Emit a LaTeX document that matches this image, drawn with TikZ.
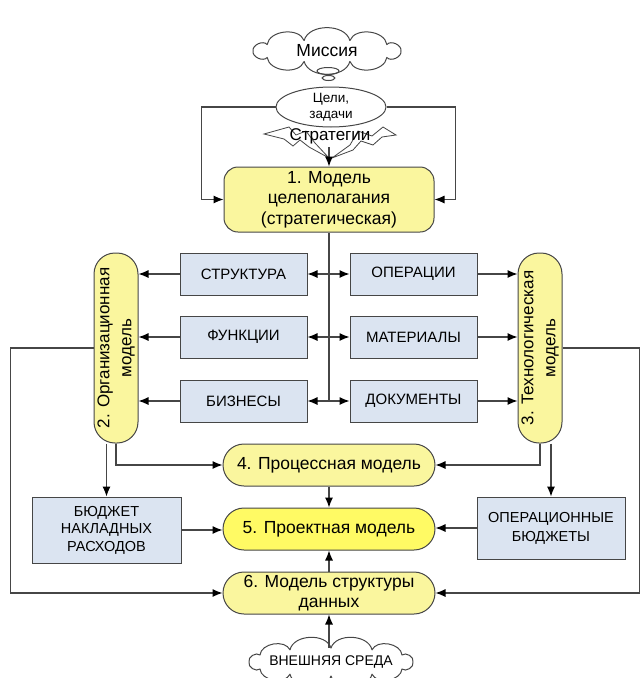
\documentclass[tikz,border=0pt]{standalone}
\usepackage{fontspec}
\setmainfont{Liberation Sans}
\usepackage{graphicx}
\usetikzlibrary{shapes.geometric,arrows.meta}
\definecolor{modelfill}{RGB}{250,246,158}
\definecolor{projfill}{RGB}{255,250,100}
\definecolor{boxfill}{RGB}{219,228,241}
\definecolor{linegray}{RGB}{70,70,70}
\begin{document}
\begin{tikzpicture}[x=1pt,y=-1pt,>={Latex[length=10pt,width=8pt,color=black]},
	model/.style={rounded corners=21pt,draw=linegray,line width=1pt,fill=modelfill,minimum width=212pt,minimum height=42pt,inner sep=1pt,align=center,font=\fontsize{17.5}{20.5}\selectfont},
	vmodel/.style={model,minimum width=42pt,minimum height=190pt,inner sep=0pt,font=\fontsize{17}{22}\selectfont},
	bx/.style={draw=linegray,line width=1pt,fill=boxfill,minimum width=127pt,minimum height=42pt,inner sep=2pt,align=center,font=\fontsize{15}{17.5}\selectfont},
	line/.style={draw=linegray,line width=1.1pt},
	bolt/.style={draw=linegray,line width=0.8pt,fill=white},
	puffs/.style={draw=linegray,line width=1pt,line join=round}]

	\useasboundingbox (0,0) rectangle (641,678);
	\clip (0,0) rectangle (641,678);

	\node[ellipse, minimum width=150pt, minimum height=22pt, inner sep=0pt, font=\fontsize{17.5}{20}\selectfont] (mission) at (327,51) {Миссия};
	\draw[puffs, shift={(mission.center)}] (0:74 and 11) \foreach \a in {36,72,...,360} {to[bend left=75] (\a:74 and 11)};
	\node[ellipse, draw=linegray, line width=1pt, minimum width=22pt, minimum height=7pt, inner sep=0pt] (bubbleA) at (328,71) {};
	\node[ellipse, draw=linegray, line width=1pt, minimum width=13pt, minimum height=5pt, inner sep=0pt] (bubbleB) at (328.5,78) {};
	\node[ellipse, draw=linegray, line width=1pt, minimum width=110pt, minimum height=40pt, inner sep=0pt, align=center, font=\fontsize{13.5}{16}\selectfont] (goals) at (331,107) {Цели,\\задачи};

	\draw[bolt] (264,134) -- (289,127) -- (296,135) -- (306,131) -- (315,143) -- (329,158) -- (309,147) -- (300,140) -- (293,146) -- (284,139) -- cycle;
	\draw[bolt] (396,135) -- (383,127) -- (372,136) -- (358,131) -- (350,145) -- (332,158) -- (353,150) -- (361,141) -- (373,145) -- (382,137) -- cycle;
	\node[font=\fontsize{17}{20}\selectfont, inner sep=0pt] (strat) at (330,136) {Стратегии};
	\coordinate (boltTip) at (329,147);

	\node[model, rounded corners=14pt, minimum width=210pt, minimum height=65pt] (m1) at (329,199.5) {1. Модель\\целеполагания\\(стратегическая)};

	\node[bx] (bxStruct) at (243.5,274) {СТРУКТУРА};
	\node[bx] (bxFunc) at (243.5,337) {ФУНКЦИИ};
	\node[bx] (bxBiz) at (243.5,401) {БИЗНЕСЫ};
	\node[bx] (bxOper) at (413.5,274) {ОПЕРАЦИИ};
	\node[bx] (bxMat) at (413.5,337) {МАТЕРИАЛЫ};
	\node[bx] (bxDoc) at (413.5,401) {ДОКУМЕНТЫ};

	\node[vmodel] (m2) at (116,348) {\rotatebox{90}{\begin{tabular}{@{}c@{}}2. Организационная\\модель\end{tabular}}};
	\node[vmodel] (m3) at (540,348) {\rotatebox{90}{\begin{tabular}{@{}c@{}}3. Технологическая\\модель\end{tabular}}};

	\node[model] (m4) at (329,465) {4. Процессная модель};
	\node[model, fill=projfill] (m5) at (329,529) {5. Проектная модель};
	\node[model] (m6) at (329,593) {6. Модель структуры\\данных};

	\node[bx, minimum width=149pt, minimum height=66pt, font=\fontsize{14.5}{17.5}\selectfont] (bxOverhead) at (106.5,530) {БЮДЖЕТ\\НАКЛАДНЫХ\\РАСХОДОВ};
	\node[bx, minimum width=148pt, minimum height=62pt, font=\fontsize{14.5}{19}\selectfont] (bxOpBudget) at (551,528) {ОПЕРАЦИОННЫЕ\\БЮДЖЕТЫ};

	\node[ellipse, minimum width=164pt, minimum height=28pt, inner sep=0pt, font=\fontsize{14}{16}\selectfont] (env) at (331,662) {ВНЕШНЯЯ СРЕДА};
	\draw[puffs, shift={(env.center)}] (0:82 and 14) \foreach \a in {30,60,...,360} {to[bend left=75] (\a:82 and 14)};

	\draw[line,->] (goals.west) -- ++(-74,0) |- (m1.west);
	\draw[line,->] (goals.east) -- ++(69,0) |- (m1.east);
	\draw[line,->] (boltTip) -- (boltTip |- m1.north);

	\draw[line] (m1.south) -- (m1.south |- bxBiz.east);
	\foreach \b in {Struct,Func,Biz} {
		\draw[line,->] (m1.south |- bx\b.east) -- (bx\b.east);
		\draw[line,->] (bx\b.west) -- (bx\b.west -| m2.east);
	}
	\foreach \b in {Oper,Mat,Doc} {
		\draw[line,->] (m1.south |- bx\b.west) -- (bx\b.west);
		\draw[line,->] (bx\b.east) -- (bx\b.east -| m3.west);
	}

	\draw[line,->] (m2.west) -- ++(-83,0) |- (m6.west);
	\draw[line,->] (m3.east) -- ++(77,0) |- (m6.east);
	\draw[line,->] (m2.south) |- (m4.west);
	\draw[line,->] (m3.south) |- (m4.east);
	\draw[line,->] (m2.south -| bxOverhead.north) -- (bxOverhead.north);
	\draw[line,->] (m3.south -| bxOpBudget.north) -- (bxOpBudget.north);

	\draw[line,->] (m4) -- (m5);
	\draw[line,->] (m6) -- (m5);
	\draw[line,->] (bxOverhead.east) -- (bxOverhead.east -| m5.west);
	\draw[line,->] (bxOpBudget.west) -- (bxOpBudget.west -| m5.east);
	\draw[line,->] (env.north -| m6.south) -- (m6.south);

\end{tikzpicture}
\end{document}
